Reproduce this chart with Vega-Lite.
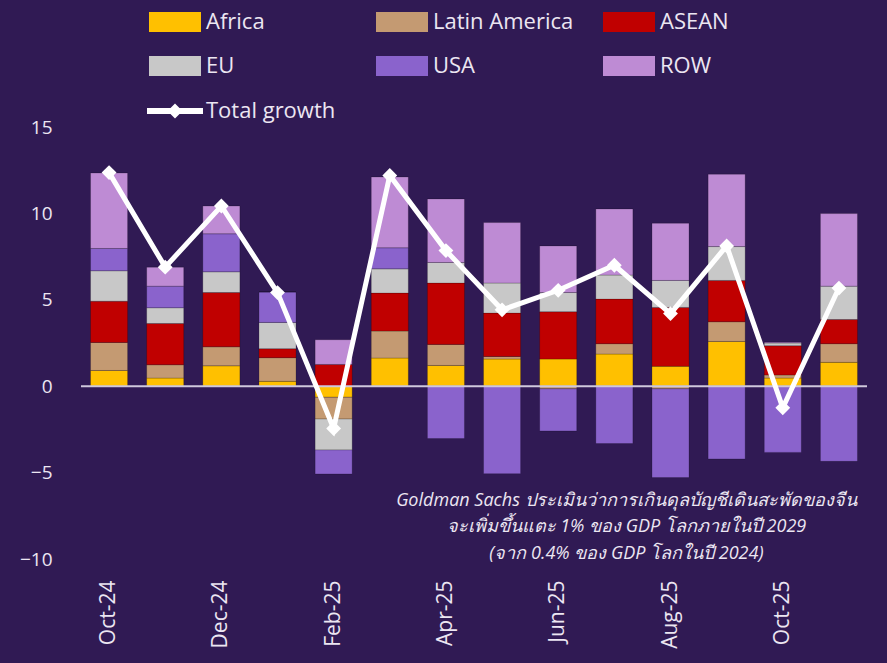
{
  "$schema": "https://vega.github.io/schema/vega-lite/v6.json",
  "width": 786,
  "height": 432,
  "autosize": {"type": "none"},
  "padding": {"left": 81, "top": 127, "right": 20, "bottom": 104},
  "background": "#301a54",
  "config": {"view": {"stroke": null}, "font": "Open Sans"},
  "datasets": {
    "bars": [
      {"month": "Oct-24", "region": "Africa", "value": 0.91},
      {"month": "Oct-24", "region": "Latin America", "value": 1.62},
      {"month": "Oct-24", "region": "ASEAN", "value": 2.39},
      {"month": "Oct-24", "region": "EU", "value": 1.76},
      {"month": "Oct-24", "region": "USA", "value": 1.29},
      {"month": "Oct-24", "region": "ROW", "value": 4.37},
      {"month": "Nov-24", "region": "Africa", "value": 0.47},
      {"month": "Nov-24", "region": "Latin America", "value": 0.77},
      {"month": "Nov-24", "region": "ASEAN", "value": 2.39},
      {"month": "Nov-24", "region": "EU", "value": 0.91},
      {"month": "Nov-24", "region": "USA", "value": 1.25},
      {"month": "Nov-24", "region": "ROW", "value": 1.10},
      {"month": "Dec-24", "region": "Africa", "value": 1.18},
      {"month": "Dec-24", "region": "Latin America", "value": 1.10},
      {"month": "Dec-24", "region": "ASEAN", "value": 3.14},
      {"month": "Dec-24", "region": "EU", "value": 1.20},
      {"month": "Dec-24", "region": "USA", "value": 2.20},
      {"month": "Dec-24", "region": "ROW", "value": 1.61},
      {"month": "Jan-25", "region": "Africa", "value": 0.28},
      {"month": "Jan-25", "region": "Latin America", "value": 1.37},
      {"month": "Jan-25", "region": "ASEAN", "value": 0.52},
      {"month": "Jan-25", "region": "EU", "value": 1.52},
      {"month": "Jan-25", "region": "USA", "value": 1.76},
      {"month": "Jan-25", "region": "ROW", "value": 0},
      {"month": "Feb-25", "region": "Africa", "value": -0.64},
      {"month": "Feb-25", "region": "Latin America", "value": -1.26},
      {"month": "Feb-25", "region": "ASEAN", "value": 1.26},
      {"month": "Feb-25", "region": "EU", "value": -1.79},
      {"month": "Feb-25", "region": "USA", "value": -1.39},
      {"month": "Feb-25", "region": "ROW", "value": 1.43},
      {"month": "Mar-25", "region": "Africa", "value": 1.63},
      {"month": "Mar-25", "region": "Latin America", "value": 1.56},
      {"month": "Mar-25", "region": "ASEAN", "value": 2.20},
      {"month": "Mar-25", "region": "EU", "value": 1.40},
      {"month": "Mar-25", "region": "USA", "value": 1.22},
      {"month": "Mar-25", "region": "ROW", "value": 4.10},
      {"month": "Apr-25", "region": "Africa", "value": 1.20},
      {"month": "Apr-25", "region": "Latin America", "value": 1.22},
      {"month": "Apr-25", "region": "ASEAN", "value": 3.55},
      {"month": "Apr-25", "region": "EU", "value": 1.19},
      {"month": "Apr-25", "region": "USA", "value": -3.03},
      {"month": "Apr-25", "region": "ROW", "value": 3.68},
      {"month": "May-25", "region": "Africa", "value": 1.57},
      {"month": "May-25", "region": "Latin America", "value": 0.15},
      {"month": "May-25", "region": "ASEAN", "value": 2.51},
      {"month": "May-25", "region": "EU", "value": 1.74},
      {"month": "May-25", "region": "USA", "value": -5.06},
      {"month": "May-25", "region": "ROW", "value": 3.50},
      {"month": "Jun-25", "region": "Africa", "value": 1.57},
      {"month": "Jun-25", "region": "Latin America", "value": -0.15},
      {"month": "Jun-25", "region": "ASEAN", "value": 2.74},
      {"month": "Jun-25", "region": "EU", "value": 1.11},
      {"month": "Jun-25", "region": "USA", "value": -2.44},
      {"month": "Jun-25", "region": "ROW", "value": 2.70},
      {"month": "Jul-25", "region": "Africa", "value": 1.86},
      {"month": "Jul-25", "region": "Latin America", "value": 0.60},
      {"month": "Jul-25", "region": "ASEAN", "value": 2.58},
      {"month": "Jul-25", "region": "EU", "value": 1.39},
      {"month": "Jul-25", "region": "USA", "value": -3.32},
      {"month": "Jul-25", "region": "ROW", "value": 3.83},
      {"month": "Aug-25", "region": "Africa", "value": 1.15},
      {"month": "Aug-25", "region": "Latin America", "value": -0.15},
      {"month": "Aug-25", "region": "ASEAN", "value": 3.41},
      {"month": "Aug-25", "region": "EU", "value": 1.56},
      {"month": "Aug-25", "region": "USA", "value": -5.14},
      {"month": "Aug-25", "region": "ROW", "value": 3.31},
      {"month": "Sep-25", "region": "Africa", "value": 2.59},
      {"month": "Sep-25", "region": "Latin America", "value": 1.14},
      {"month": "Sep-25", "region": "ASEAN", "value": 2.39},
      {"month": "Sep-25", "region": "EU", "value": 1.96},
      {"month": "Sep-25", "region": "USA", "value": -4.21},
      {"month": "Sep-25", "region": "ROW", "value": 4.19},
      {"month": "Oct-25", "region": "Africa", "value": 0.47},
      {"month": "Oct-25", "region": "Latin America", "value": 0.18},
      {"month": "Oct-25", "region": "ASEAN", "value": 1.69},
      {"month": "Oct-25", "region": "EU", "value": 0.16},
      {"month": "Oct-25", "region": "USA", "value": -3.83},
      {"month": "Oct-25", "region": "ROW", "value": 0.05},
      {"month": "Nov-25", "region": "Africa", "value": 1.38},
      {"month": "Nov-25", "region": "Latin America", "value": 1.08},
      {"month": "Nov-25", "region": "ASEAN", "value": 1.40},
      {"month": "Nov-25", "region": "EU", "value": 1.93},
      {"month": "Nov-25", "region": "USA", "value": -4.35},
      {"month": "Nov-25", "region": "ROW", "value": 4.20}
    ],
    "totals": [
      {"month": "Oct-24", "series": "Total growth", "total": 12.36},
      {"month": "Nov-24", "series": "Total growth", "total": 6.89},
      {"month": "Dec-24", "series": "Total growth", "total": 10.43},
      {"month": "Jan-25", "series": "Total growth", "total": 5.42},
      {"month": "Feb-25", "series": "Total growth", "total": -2.45},
      {"month": "Mar-25", "series": "Total growth", "total": 12.2},
      {"month": "Apr-25", "series": "Total growth", "total": 7.85},
      {"month": "May-25", "series": "Total growth", "total": 4.42},
      {"month": "Jun-25", "series": "Total growth", "total": 5.55},
      {"month": "Jul-25", "series": "Total growth", "total": 7.0},
      {"month": "Aug-25", "series": "Total growth", "total": 4.2},
      {"month": "Sep-25", "series": "Total growth", "total": 8.12},
      {"month": "Oct-25", "series": "Total growth", "total": -1.25},
      {"month": "Nov-25", "series": "Total growth", "total": 5.68}
    ],
    "note": [
      {"note": "Goldman Sachs ประเมินว่าการเกินดุลบัญชีเดินสะพัดของจีน\nจะเพิ่มขึ้นแตะ 1% ของ GDP โลกภายในปี 2029\n(จาก 0.4% ของ GDP โลกในปี 2024)"}
    ]
  },
  "layer": [
    {
      "data": {"name": "bars"},
      "transform": [
        {"calculate": "indexof(['Africa','Latin America','ASEAN','EU','USA','ROW'], datum.region)", "as": "rk"}
      ],
      "mark": {"type": "bar", "stroke": "#000000", "strokeOpacity": 0.2, "strokeWidth": 1},
      "encoding": {
        "x": {
          "field": "month", "type": "nominal",
          "sort": ["Oct-24","Nov-24","Dec-24","Jan-25","Feb-25","Mar-25","Apr-25","May-25","Jun-25","Jul-25","Aug-25","Sep-25","Oct-25","Nov-25"],
          "scale": {"paddingInner": 0.34, "paddingOuter": 0.17},
          "axis": {
            "title": null, "values": ["Oct-24","Dec-24","Feb-25","Apr-25","Jun-25","Aug-25","Oct-25"],
            "labelAngle": -90, "labelAlign": "right", "labelBaseline": "middle",
            "labelFontSize": 21, "labelColor": "#ece6f2", "labelPadding": 21,
            "ticks": false, "domain": false, "grid": false
          }
        },
        "y": {
          "field": "value", "type": "quantitative", "stack": "zero",
          "scale": {"domain": [-10, 15], "nice": false, "zero": false},
          "axis": {
            "title": null, "values": [-10, -5, 0, 5, 10, 15],
            "labelFontSize": 19, "labelColor": "#ece6f2", "labelPadding": 29,
            "ticks": false, "domain": false, "grid": false
          }
        },
        "fill": {
          "field": "region", "type": "nominal",
          "sort": ["Africa","Latin America","ASEAN","EU","USA","ROW"],
          "scale": {
            "domain": ["Africa","Latin America","ASEAN","EU","USA","ROW"],
            "range": ["#FFC000","#C49A72","#C00000","#C8C8C8","#8A63CC","#BE8BD4"]
          },
          "legend": {
            "orient": "none", "legendX": 83, "legendY": -116,
            "direction": "horizontal",
            "columns": 3, "title": null, "gridAlign": "all",
            "symbolType": "M-2.6,-1H2.6V1H-2.6Z", "symbolSize": 400, "symbolStrokeWidth": 0,
            "symbolOpacity": 1,
            "labelFontSize": 22, "labelColor": "#ece6f2", "labelOffset": 20, "labelLimit": 300,
            "columnPadding": 29, "rowPadding": 22
          }
        },
        "order": {"field": "rk", "type": "quantitative"}
      }
    },
    {
      "data": {"values": [{"zero": 0}]},
      "mark": {"type": "rule", "color": "#cfc8dc", "strokeWidth": 2},
      "encoding": {"y": {"field": "zero", "type": "quantitative", "scale": {"domain": [-10, 15], "nice": false, "zero": false}}}
    },
    {
      "data": {"name": "totals"},
      "mark": {"type": "line", "strokeWidth": 5},
      "encoding": {
        "x": {"field": "month", "type": "nominal", "sort": ["Oct-24","Nov-24","Dec-24","Jan-25","Feb-25","Mar-25","Apr-25","May-25","Jun-25","Jul-25","Aug-25","Sep-25","Oct-25","Nov-25"]},
        "y": {"field": "total", "type": "quantitative", "scale": {"domain": [-10, 15], "nice": false, "zero": false}},
        "stroke": {
          "field": "series", "type": "nominal",
          "scale": {"range": ["#ffffff"]},
          "legend": {
            "orient": "none", "legendX": 83, "legendY": -27, "title": null,
            "symbolType": "M-2.8,-0.3H2.8V0.3H-2.8Z M-0.75,0L0,-0.75L0.75,0L0,0.75Z",
            "symbolSize": 400, "symbolFillColor": "#ffffff", "symbolStrokeWidth": 0, "symbolOpacity": 1,
            "labelFontSize": 22, "labelColor": "#ece6f2", "labelOffset": 20, "labelLimit": 300,
            "encode": {"symbols": {"update": {"fill": {"value": "#ffffff"}, "strokeWidth": {"value": 0}}}}
          }
        }
      }
    },
    {
      "data": {"name": "totals"},
      "mark": {"type": "point", "shape": "diamond", "filled": true, "color": "#ffffff", "size": 220, "opacity": 1},
      "encoding": {
        "x": {"field": "month", "type": "nominal", "sort": ["Oct-24","Nov-24","Dec-24","Jan-25","Feb-25","Mar-25","Apr-25","May-25","Jun-25","Jul-25","Aug-25","Sep-25","Oct-25","Nov-25"]},
        "y": {"field": "total", "type": "quantitative", "scale": {"domain": [-10, 15], "nice": false, "zero": false}}
      }
    },
    {
      "data": {"name": "note"},
      "mark": {
        "type": "text", "fontStyle": "italic", "fontSize": 18, "color": "#ece6f2",
        "align": "center", "baseline": "middle", "lineBreak": "\n", "lineHeight": 26.5, "dx": 12
      },
      "encoding": {
        "text": {"field": "note", "type": "nominal"},
        "x": {"datum": "Jul-25", "type": "nominal"},
        "y": {"datum": -6.63, "type": "quantitative", "scale": {"domain": [-10, 15], "nice": false, "zero": false}}
      }
    }
  ]
}
